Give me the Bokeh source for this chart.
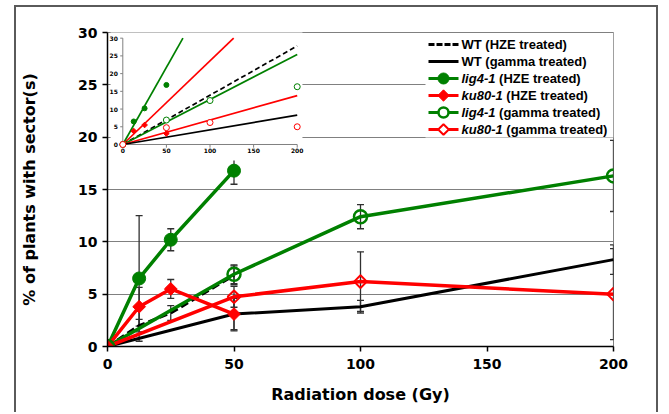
import numpy as np
from bokeh.plotting import figure
from bokeh.models import Range1d, ColumnDataSource, Whisker, TeeHead, FixedTicker
from bokeh.core.properties import value
from bokeh.embed import file_html
from bokeh.resources import INLINE

# ---------------- data ----------------
dose_hze = [0, 12.5, 25, 50]
dose_gamma = [0, 50, 100, 200]

wt_hze = [0, 2.0, 3.2, 6.8]
wt_hze_err = [0, 0.6, 0.7, 0.9]
wt_gamma = [0, 3.1, 3.8, 8.3]
wt_gamma_err = [0, 1.6, 0.6, 1.4]
lig4_hze = [0, 6.5, 10.2, 16.8]
lig4_hze_err = [0, 6.0, 1.05, 1.3]
ku80_hze = [0, 3.8, 5.5, 3.1]
ku80_hze_err = [0, 1.85, 0.9, 1.5]
lig4_gamma = [0, 6.9, 12.4, 16.3]
lig4_gamma_err = [0, 0.9, 1.15, 3.4]
ku80_gamma = [0, 4.75, 6.2, 5.0]
ku80_gamma_err = [0, 1.0, 2.85, 4.35]

# inset: linear trend slopes (% per Gy)
slope_wt_hze = 0.139
slope_wt_gamma = 0.0415
slope_lig4_hze = 0.435
slope_ku80_hze = 0.236
slope_lig4_gamma = 0.127
slope_ku80_gamma = 0.069

x_ticks = [0, 50, 100, 150, 200]
y_ticks = [0, 5, 10, 15, 20, 25, 30]
inset_x_ticks = [0, 50, 100, 150, 200]
inset_y_ticks = [0, 5, 10, 15, 20, 25, 30]

legend_gene = ["", "", "lig4-1", "ku80-1", "lig4-1", "ku80-1"]
legend_rest = ["WT (HZE treated)", "WT (gamma treated)", "(HZE treated)", "(HZE treated)",
               "(gamma treated)", "(gamma treated)"]

GREEN = "#008000"
RED = "#FF0000"
FONT = "DejaVu Sans"
LFONT = "Liberation Sans"
LSIZE = 13
# advance widths (per 1000 em) of Liberation Sans Bold Italic, for placing the text after the gene names
ADV = {"l": 278, "i": 278, "g": 611, "4": 556, "-": 333, "1": 556, "k": 556, "u": 611,
       "8": 556, "0": 556, " ": 278}

p = figure(width=644, height=407, x_range=Range1d(0, 200), y_range=Range1d(0, 30),
           output_backend="svg", toolbar_location=None,
           min_border_left=91, min_border_right=47, min_border_top=25, min_border_bottom=68)
p.styles = {"margin-left": "14px", "margin-top": "5px",
            "border-left": "2px solid #5a5a5a", "border-top": "2px solid #5a5a5a",
            "border-right": "2px solid #5a5a5a"}
# inset coordinates and a pixel-like frame coordinate system for the legend
p.extra_x_ranges = {"ix": Range1d(-17.55, 562.7), "px": Range1d(107, 613)}
p.extra_y_ranges = {"iy": Range1d(-57.0, 31.6), "py": Range1d(346, 32)}

p.background_fill_color = "white"
p.border_fill_color = "white"
p.outline_line_color = "#808080"
p.outline_line_width = 1
p.xgrid.visible = False
p.ygrid.grid_line_color = "#808080"
p.ygrid.grid_line_width = 1
p.xaxis.ticker = FixedTicker(ticks=x_ticks)
p.yaxis.ticker = FixedTicker(ticks=y_ticks)
for ax in (p.xaxis[0], p.yaxis[0]):
    ax.axis_line_color = "black"
    ax.axis_line_width = 1.5
    ax.major_tick_line_color = "black"
    ax.major_tick_line_width = 1.5
    ax.major_tick_in = 0
    ax.major_tick_out = 5
    ax.minor_tick_line_color = None
    ax.major_label_text_font = FONT
    ax.major_label_text_font_style = "bold"
    ax.major_label_text_font_size = "14px"
    ax.major_label_text_color = "black"
    ax.axis_label_text_font = FONT
    ax.axis_label_text_font_style = "bold"
    ax.axis_label_text_font_size = "16px"
    ax.axis_label_text_color = "black"
p.xaxis.axis_label = "Radiation dose (Gy)"
p.yaxis.axis_label = "% of plants with sector(s)"
p.yaxis.axis_label_standoff = 36
p.xaxis.axis_label_standoff = 13
p.xaxis.major_label_standoff = 7

# ---------------- inset ----------------
ik = dict(x_range_name="ix", y_range_name="iy")
ix_max = max(inset_x_ticks)
iy_max = max(inset_y_ticks)
p.quad(left=[-14], right=[206], bottom=[-4.5], top=[40], fill_color="white",
       line_color=None, **ik)
p.segment(x0=[0, 0], y0=[0, 0], x1=[ix_max, 0], y1=[0, iy_max], line_color="#808080",
          line_width=1, **ik)
p.segment(x0=[0] * len(inset_y_ticks), x1=[-3] * len(inset_y_ticks), y0=inset_y_ticks,
          y1=inset_y_ticks, line_color="#808080", line_width=1, **ik)
p.segment(x0=inset_x_ticks, x1=inset_x_ticks, y0=[0] * len(inset_x_ticks),
          y1=[-0.9] * len(inset_x_ticks), line_color="#808080", line_width=1, **ik)
p.text(x=[0] * len(inset_y_ticks), y=inset_y_ticks, text=[str(t) for t in inset_y_ticks],
       x_offset=-5, text_align="right", text_baseline="middle", text_font=value(FONT),
       text_font_size="6px", text_font_style="bold", text_color="black", **ik)
p.text(x=inset_x_ticks, y=[0] * len(inset_x_ticks), text=[str(t) for t in inset_x_ticks],
       y_offset=4, text_align="center", text_baseline="top", text_font=value(FONT),
       text_font_size="6px", text_font_style="bold", text_color="black", **ik)


def trend(s, color, dash="solid"):
    xe = min(ix_max, iy_max / s)
    p.line(x=[0, xe], y=[0, s * xe], line_color=color, line_width=1.7, line_dash=dash, **ik)


trend(slope_lig4_hze, GREEN)
trend(slope_ku80_hze, RED)
trend(slope_wt_hze, "black", "5 3")
trend(slope_lig4_gamma, GREEN)
trend(slope_ku80_gamma, RED)
trend(slope_wt_gamma, "black")
p.scatter(dose_hze, lig4_hze, marker="circle", size=5, fill_color=GREEN, line_color=GREEN, **ik)
p.scatter(dose_hze, ku80_hze, marker="square", angle=np.pi / 4, size=4, fill_color=RED,
          line_color=RED, **ik)
p.scatter(dose_gamma, lig4_gamma, marker="circle", size=6, fill_color="white",
          line_color=GREEN, line_width=1, **ik)
p.scatter(dose_gamma, ku80_gamma, marker="circle", size=6, fill_color="white",
          line_color=RED, line_width=1, **ik)

# ---------------- main series ----------------
p.line(dose_hze, wt_hze, line_color="black", line_width=3, line_dash="8 4")
p.line(dose_gamma, wt_gamma, line_color="black", line_width=3)
p.line(dose_gamma, lig4_gamma, line_color=GREEN, line_width=3.5)
p.line(dose_gamma, ku80_gamma, line_color=RED, line_width=3.5)
p.line(dose_hze, lig4_hze, line_color=GREEN, line_width=3.5)
p.line(dose_hze, ku80_hze, line_color=RED, line_width=3.5)
p.scatter(dose_gamma, lig4_gamma, marker="circle", size=13, fill_color=None,
          line_color=GREEN, line_width=2.5)
p.scatter(dose_gamma, ku80_gamma, marker="square", angle=np.pi / 4, size=9,
          fill_color=None, line_color=RED, line_width=2)
p.scatter(dose_hze, lig4_hze, marker="circle", size=13, fill_color=GREEN, line_color=GREEN)
p.scatter(dose_hze, ku80_hze, marker="square", angle=np.pi / 4, size=9,
          fill_color=RED, line_color=RED)


def errbars(xs, ys, es):
    xs2 = [x for x, e in zip(xs, es) if e > 0]
    up = [y + e for y, e in zip(ys, es) if e > 0]
    lo = [y - e for y, e in zip(ys, es) if e > 0]
    src = ColumnDataSource(dict(base=xs2, upper=up, lower=lo))
    w = Whisker(source=src, base="base", upper="upper", lower="lower", line_color="#303030",
                line_width=1.3,
                upper_head=TeeHead(size=7, line_color="#303030", line_width=1.3),
                lower_head=TeeHead(size=7, line_color="#303030", line_width=1.3))
    p.add_layout(w)


errbars(dose_hze, wt_hze, wt_hze_err)
errbars(dose_gamma, wt_gamma, wt_gamma_err)
errbars(dose_hze, lig4_hze, lig4_hze_err)
errbars(dose_hze, ku80_hze, ku80_hze_err)
errbars(dose_gamma, lig4_gamma, lig4_gamma_err)
errbars(dose_gamma, ku80_gamma, ku80_gamma_err)

# ---------------- legend (drawn in frame pixel coordinates) ----------------
pk = dict(x_range_name="px", y_range_name="py")
p.quad(left=[425], right=[613], top=[32.5], bottom=[137], fill_color="white",
       line_color=None, **pk)
row_y = [44 + 17 * i for i in range(len(legend_rest))]
row_color = ["black", "black", GREEN, RED, GREEN, RED]
row_dash = ["6 2", "solid", "solid", "solid", "solid", "solid"]
for i in range(len(legend_rest)):
    p.line(x=[428, 458], y=[row_y[i], row_y[i]], line_color=row_color[i], line_width=3,
           line_dash=row_dash[i], **pk)
p.scatter(x=[443], y=[row_y[2]], marker="circle", size=11, fill_color=GREEN,
          line_color=GREEN, **pk)
p.scatter(x=[443], y=[row_y[3]], marker="square", angle=np.pi / 4, size=8, fill_color=RED,
          line_color=RED, **pk)
p.scatter(x=[443], y=[row_y[4]], marker="circle", size=10, fill_color="white",
          line_color=GREEN, line_width=2.5, **pk)
p.scatter(x=[443], y=[row_y[5]], marker="square", angle=np.pi / 4, size=7.5,
          fill_color="white", line_color=RED, line_width=2, **pk)
TX = 461
gi = [i for i in range(len(legend_gene)) if legend_gene[i]]
wi = [i for i in range(len(legend_gene)) if not legend_gene[i]]
rest_x = [TX + sum(ADV[c] for c in legend_gene[i] + " ") * LSIZE / 1000 for i in gi]
p.text(x=[TX] * len(gi), y=[row_y[i] for i in gi], text=[legend_gene[i] for i in gi],
       text_baseline="middle", text_font=value(LFONT), text_font_style="bold italic",
       text_font_size=f"{LSIZE}px", text_color="black", **pk)
p.text(x=rest_x, y=[row_y[i] for i in gi], text=[legend_rest[i] for i in gi],
       text_baseline="middle", text_font=value(LFONT), text_font_style="bold",
       text_font_size=f"{LSIZE}px", text_color="black", **pk)
p.text(x=[TX] * len(wi), y=[row_y[i] for i in wi], text=[legend_rest[i] for i in wi],
       text_baseline="middle", text_font=value(LFONT), text_font_style="bold",
       text_font_size=f"{LSIZE}px", text_color="black", **pk)

open("out.html", "w").write(file_html(p, INLINE))
